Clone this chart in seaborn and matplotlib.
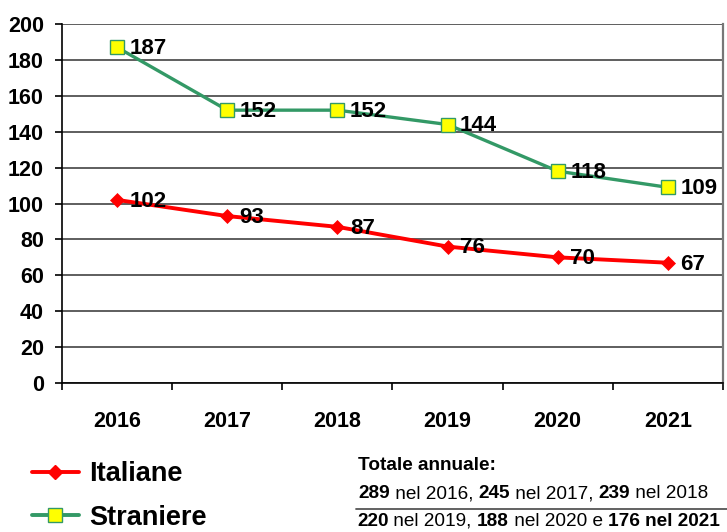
import matplotlib
matplotlib.use("Agg")
import matplotlib.pyplot as plt
import seaborn as sns
import pandas as pd
from matplotlib.lines import Line2D
from matplotlib.ticker import FixedLocator

# ---- data ----
years = ["2016", "2017", "2018", "2019", "2020", "2021"]
italiane = [102, 93, 87, 76, 70, 67]
straniere = [187, 152, 152, 144, 118, 109]
series_names = ["Italiane", "Straniere"]
totali = [289, 245, 239, 220, 188, 176]
y_ticks = [0, 20, 40, 60, 80, 100, 120, 140, 160, 180, 200]

sns.set_theme(style="white")
plt.rcParams["font.family"] = ["Liberation Sans", "DejaVu Sans"]
plt.rcParams["text.color"] = "black"
plt.rcParams["xtick.color"] = "black"
plt.rcParams["ytick.color"] = "black"

RED = "#FF0000"
GREEN = "#339966"
YELLOW = "#FFFF00"

fig = plt.figure(figsize=(7.27, 5.32), dpi=100)
W, H = 727, 532
ax = fig.add_axes([62 / W, 1 - 383 / H, (723 - 62) / W, (383 - 24) / H])

df = pd.DataFrame({"pos": range(len(years)), "year": years,
                   series_names[0]: italiane, series_names[1]: straniere})

sns.lineplot(data=df, x="pos", y=series_names[1], ax=ax, color=GREEN, lw=2.4,
             marker="s", markersize=9.5, markerfacecolor=YELLOW,
             markeredgecolor=GREEN, markeredgewidth=1.0, zorder=4)
sns.lineplot(data=df, x="pos", y=series_names[0], ax=ax, color=RED, lw=2.8,
             marker="D", markersize=7, markerfacecolor=RED,
             markeredgecolor=RED, markeredgewidth=0.5, zorder=4)

for i, v in enumerate(straniere):
    ax.annotate(str(v), (i, v), xytext=(9, -1), textcoords="offset points",
                ha="left", va="center", fontsize=16, fontweight="bold",
                color="black", zorder=5)
for i, v in enumerate(italiane):
    ax.annotate(str(v), (i, v), xytext=(9, -1), textcoords="offset points",
                ha="left", va="center", fontsize=16, fontweight="bold",
                color="black", zorder=5)

ax.set_xlim(-0.5, len(years) - 0.5)
ax.set_ylim(0, 200)
ax.set_yticks(y_ticks)
ax.set_yticklabels([str(t) for t in y_ticks], fontsize=15.5, fontweight="bold",
                   color="black")
ax.set_xticks(range(len(years)))
ax.set_xticklabels(years, fontsize=15.5, fontweight="bold", color="black")
ax.xaxis.set_minor_locator(FixedLocator([i - 0.5 for i in range(len(years) + 1)]))
ax.tick_params(axis="x", which="major", length=0, pad=20)
ax.tick_params(axis="x", which="minor", length=5, width=1.2, direction="out",
               color="black", bottom=True)
ax.tick_params(axis="y", which="major", length=5, width=1.2, direction="out",
               pad=8, color="black", left=True)
ax.set_xlabel("")
ax.set_ylabel("")

ax.yaxis.grid(True, color="#333333", lw=1.1, zorder=0)
ax.xaxis.grid(False)
ax.set_axisbelow(True)
for s in ["left", "bottom"]:
    ax.spines[s].set_color("black")
    ax.spines[s].set_linewidth(1.2)
ax.spines["top"].set_visible(False)
ax.spines["right"].set_color("#777777")
ax.spines["right"].set_linewidth(1.6)

# ---- legend ----
handles = [
    Line2D([], [], color=RED, lw=2.8, marker="D", markersize=7.5,
           markerfacecolor=RED, markeredgecolor=RED),
    Line2D([], [], color=GREEN, lw=2.8, marker="s", markersize=10,
           markerfacecolor=YELLOW, markeredgecolor=GREEN),
]
leg = fig.legend(handles, series_names, loc="upper left",
                 bbox_to_anchor=(32 / W, 1 - 461 / H), frameon=False,
                 prop={"size": 19.5, "weight": "bold"}, handlelength=1.72,
                 handletextpad=0.38, labelspacing=0.66, borderpad=0,
                 borderaxespad=0)
for t in leg.get_texts():
    t.set_color("black")

# ---- totals text ----
fig.canvas.draw()
renderer = fig.canvas.get_renderer()


def draw_rich(x_px, y_px, pieces, size=13.7):
    x = x_px / W
    y = 1 - y_px / H
    for s, bold in pieces:
        t = fig.text(x, y, s, fontsize=size,
                     fontweight="bold" if bold else "normal",
                     va="center", ha="left", color="black")
        bb = t.get_window_extent(renderer)
        x += bb.width / fig.bbox.width


draw_rich(358, 466, [("Totale annuale:", True)])
line2 = []
for k in range(3):
    line2.append((str(totali[k]), True))
    line2.append((" nel " + years[k] + (", " if k < 2 else ""), False))
draw_rich(358, 494, line2)
line3 = [
    (str(totali[3]), True), (" nel " + years[3] + ", ", False),
    (str(totali[4]), True), (" nel " + years[4] + " e ", False),
    (str(totali[5]) + " nel " + years[5], True),
]
draw_rich(357, 521, line3, size=13.7)
fig.add_artist(Line2D([356 / W, 1.0], [1 - 509 / H, 1 - 509 / H],
                      color="#555555", lw=1.3, transform=fig.transFigure))

fig.savefig("out.png", dpi=100)
